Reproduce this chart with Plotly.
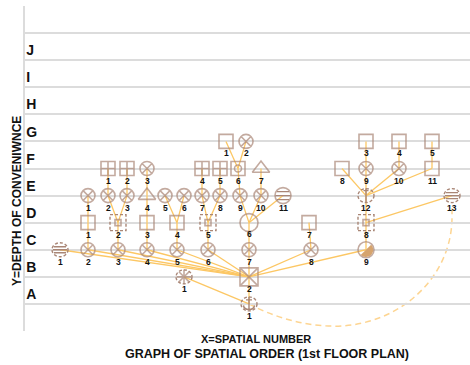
import numpy as np
import plotly.graph_objects as go

# ---------------- data ----------------
level_names = ["A", "B", "C", "D", "E", "F", "G", "H", "I", "J"]
level_values = [1, 2, 3, 4, 5, 6, 7, 8, 9, 10]

node_ids = ["G1", "G2", "G3", "G4", "G5",
            "F1", "F2", "F3", "F4", "F5", "F6", "F7", "F8", "F9", "F10", "F11",
            "E1", "E2", "E3", "E4", "E5", "E6", "E7", "E8", "E9", "E10", "E11", "E12", "E13",
            "D1", "D2", "D3", "D4", "D5", "D6", "D7", "D8",
            "C1", "C2", "C3", "C4", "C5", "C6", "C7", "C8", "C9",
            "B1", "B2",
            "A1"]
node_x = [201, 221, 341, 374, 407,
          83, 102, 122, 177, 195, 213, 236, 317, 341, 374, 407,
          63, 83, 102, 122, 140, 159, 177, 195, 215, 236, 258, 341, 427,
          63, 93, 122, 152, 183, 224, 284, 341,
          35, 63, 93, 122, 152, 183, 224, 286, 341,
          159, 224,
          224]
node_kind = ["sq", "cx", "sq", "sq", "sq",
             "grid", "grid", "cx", "grid", "grid", "sqc", "tri", "sq", "cx", "cx", "sq",
             "cx", "cx", "cx", "tri", "cx", "cx", "cx", "cx", "cx", "cx", "stripe", "dI", "dstripe",
             "sq", "dsq", "sq", "sq", "dsq", "circ", "sq", "dsq",
             "dstripe", "cx", "cx", "cx", "cx", "cx", "cx", "cx", "half",
             "ast", "sqx",
             "anchor"]

edges = [("G1", "F6"), ("G2", "F6"), ("G3", "F9"), ("G4", "F10"), ("G5", "F11"),
         ("F1", "E2"), ("F2", "E3"), ("F3", "E4"), ("F4", "E7"), ("F5", "E8"),
         ("F6", "E9"), ("F7", "E10"), ("F8", "E12"), ("F9", "E12"), ("F10", "E12"), ("F11", "E12"),
         ("E1", "D1"), ("E2", "D2"), ("E3", "D2"), ("E4", "D3"), ("E5", "D4"), ("E6", "D4"),
         ("E7", "D5"), ("E8", "D5"), ("E9", "D6"), ("E10", "D6"), ("E11", "D6"),
         ("E12", "D8"), ("E13", "D8"),
         ("D1", "C2"), ("D2", "C3"), ("D3", "C4"), ("D4", "C5"), ("D5", "C6"),
         ("D6", "C7"), ("D7", "C8"), ("D8", "C9"),
         ("C1", "B2"), ("C2", "B2"), ("C3", "B2"), ("C4", "B2"), ("C5", "B2"),
         ("C6", "B2"), ("C7", "B2"), ("C8", "B2"), ("C9", "B2"),
         ("B1", "A1"), ("B2", "A1")]
dashed_link = ("A1", "E13")

# ---------------- styling ----------------
BROWN = "#a98676"
EDGE = "#fcc764"
ARC = "#fdd592"
FILL = "#d6a46e"
GRID = "#dcdcdc"
FONT = "Liberation Sans, Arial, sans-serif"

lvl = dict(zip(level_names, level_values))
pos = {nid: (x, lvl[nid[0]]) for nid, x in zip(node_ids, node_x)}

fig = go.Figure()

# edges
ex, ey = [], []
for a, b in edges:
    ex += [pos[a][0], pos[b][0], None]
    ey += [pos[a][1], pos[b][1], None]
fig.add_trace(go.Scatter(x=ex, y=ey, mode="lines", line=dict(color=EDGE, width=1.3),
                         hoverinfo="skip", showlegend=False))

# dashed arc between A1 and E13 (bezier built from the two node positions)
(ax_, ay_), (bx_, by_) = pos[dashed_link[0]], pos[dashed_link[1]]
mx = ax_ + 0.42 * (bx_ - ax_)
my = ay_ - 0.82
k = 0.5523
ty = by_ - 0.8
arc_path = (f"M{ax_},{ay_} C{ax_ + 0.3 * (mx - ax_)},{ay_ - 0.5} {mx - 0.35 * (mx - ax_)},{my} {mx},{my} "
            f"C{mx + k * (bx_ - mx)},{my} {bx_},{ty - k * (ty - my)} {bx_},{ty} L{bx_},{by_ - 0.45}")
shapes = [dict(type="path", xref="x", yref="y", path=arc_path,
               line=dict(color=ARC, width=1.5, dash="6px,4px"), layer="below")]

simple = {"cx": ("circle-x-open", 14), "sq": ("square-open", 14), "grid": ("square-cross-open", 14),
          "tri": ("triangle-up-open", 15), "sqc": ("square-open", 14), "circ": ("circle-open", 18),
          "sqx": ("square-x-open", 18), "half": ("circle-open", 16), "stripe": ("circle-open", 16)}
mx_, my_, msym, msize = [], [], [], []
for nid, kind in zip(node_ids, node_kind):
    if kind in simple:
        s, sz = simple[kind]
        mx_.append(pos[nid][0]); my_.append(pos[nid][1]); msym.append(s); msize.append(sz)
    if kind == "sqc":
        mx_.append(pos[nid][0]); my_.append(pos[nid][1]); msym.append("circle-open"); msize.append(7)
    if kind == "dsq":
        mx_.append(pos[nid][0]); my_.append(pos[nid][1]); msym.append("square-open"); msize.append(6)
    if kind == "ast":
        mx_.append(pos[nid][0]); my_.append(pos[nid][1]); msym.append("asterisk-open"); msize.append(12)


def pix(x, y, **kw):
    d = dict(xref="x", yref="y", xsizemode="pixel", ysizemode="pixel", xanchor=x, yanchor=y)
    d.update(kw)
    return d


dash_line = dict(color=BROWN, width=1.4, dash="3px,2px")
solid_line = dict(color=BROWN, width=1.4)
for nid, kind in zip(node_ids, node_kind):
    x, y = pos[nid]
    if kind in ("dstripe", "dI", "anchor", "ast"):
        shapes.append(pix(x, y, type="circle", x0=-8, x1=8, y0=-7, y1=7, line=dash_line))
    if kind == "dsq":
        shapes.append(pix(x, y, type="rect", x0=-8, x1=8, y0=-8, y1=8, line=dash_line))
    if kind == "stripe":
        shapes.append(pix(x, y, type="path", path="M-6,4 L6,4 M-7.5,0 L7.5,0 M-6,-4 L6,-4", line=solid_line))
    if kind == "dstripe":
        shapes.append(pix(x, y, type="path", path="M-6,3 L6,3 M-7,0 L7,0 M-6,-3 L6,-3", line=solid_line))
    if kind == "dI":
        shapes.append(pix(x, y, type="path", path="M0,7 L0,-7 M-2.5,5 L2.5,5", line=solid_line))
    if kind == "anchor":
        shapes.append(pix(x, y, type="path", path="M0,7 L0,-6 M-3,4 L3,4 M-5.5,-1.5 C-5,-7 5,-7 5.5,-1.5",
                          line=solid_line))
    if kind == "half":
        ang = np.linspace(np.pi / 4, -3 * np.pi / 4, 24)
        pts = " L".join(f"{7.2 * np.cos(a):.2f},{7.2 * np.sin(a):.2f}" for a in ang)
        shapes.append(pix(x, y, type="path", path=f"M{pts} Z", fillcolor=FILL, line=dict(width=0)))

fig.add_trace(go.Scatter(x=mx_, y=my_, mode="markers", hoverinfo="skip", showlegend=False,
                         marker=dict(symbol=msym, size=msize, color=BROWN,
                                     line=dict(color=BROWN, width=1.6))))

annotations = []
for nid, kind in zip(node_ids, node_kind):
    x, y = pos[nid]
    annotations.append(dict(x=x, y=y, xref="x", yref="y", text=nid[1:], showarrow=False,
                            yshift=-11 if kind == "circ" else -12,
                            font=dict(family=FONT, size=8.5, color="#111", weight="bold")))

annotations += [
    dict(text="Y=DEPTH OF CONVENIWNCE", textangle=-90, xref="paper", yref="paper", x=-0.018, y=0.40,
         xanchor="center", yanchor="middle", showarrow=False,
         font=dict(family=FONT, size=12, color="#111", weight="bold")),
    dict(text="X=SPATIAL NUMBER", xref="paper", yref="paper", x=0.519, y=-0.0246,
         xanchor="center", yanchor="middle", showarrow=False,
         font=dict(family=FONT, size=11, color="#111", weight="bold")),
    dict(text="GRAPH OF SPATIAL ORDER (1st FLOOR PLAN)", xref="paper", yref="paper", x=0.544, y=-0.071,
         xanchor="center", yanchor="middle", showarrow=False,
         font=dict(family=FONT, size=12.5, color="#111", weight="bold")),
]

tickvals = [0] + level_values + [11, 12]
ticktext = [""] + level_names + ["", ""]

fig.update_layout(
    width=470, height=365, margin=dict(l=25, r=0, t=6, b=34),
    paper_bgcolor="white", plot_bgcolor="white",
    shapes=shapes, annotations=annotations, showlegend=False,
    xaxis=dict(range=[0, 445], showgrid=False, zeroline=False, showticklabels=False, fixedrange=True,
               automargin=False),
    yaxis=dict(range=[0, 12], tickvals=tickvals, ticktext=ticktext, showgrid=True, gridcolor=GRID,
               gridwidth=2, zeroline=False, showline=True, linecolor=GRID, linewidth=2,
               ticklabelposition="inside top", ticks="", automargin=False, fixedrange=True,
               tickfont=dict(family=FONT, size=14, color="#111", weight="bold")),
)

fig.write_html("out.html", config={"displayModeBar": False, "staticPlot": True},
               post_script="document.body.style.margin='0';")
